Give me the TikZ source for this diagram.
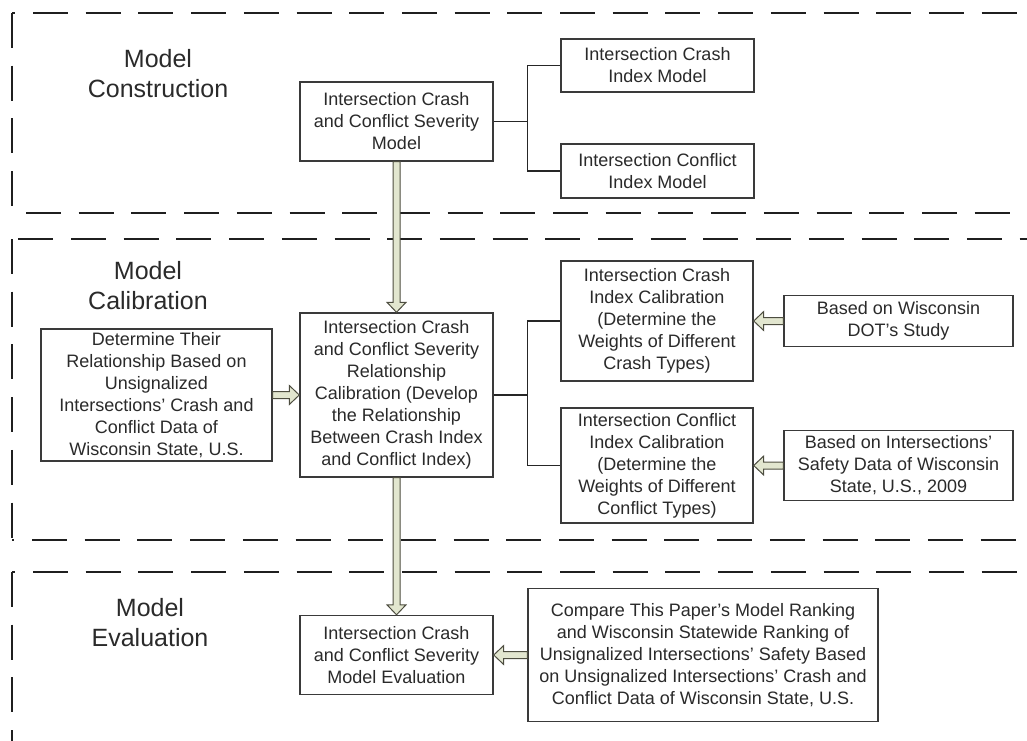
\documentclass[tikz,border=0pt]{standalone}
\usepackage{fontspec}
\setmainfont{Liberation Sans}
\usetikzlibrary{calc}
\definecolor{arrowfill}{HTML}{E2E6CF}
\definecolor{arrowline}{HTML}{4D4D40}
\definecolor{boxline}{HTML}{3A3A3A}
\definecolor{txt}{HTML}{2A2A2A}
\begin{document}
\begin{tikzpicture}[x=1pt,y=-1pt,
  box/.style={draw=boxline, line width=1.4pt, fill=white, align=center, inner sep=0pt,
    text=txt, font=\fontsize{18}{22}\selectfont},
  title/.style={align=center, font=\fontsize{25}{30}\selectfont, text=txt},
  sect/.style={draw=black!88, line width=2.4pt, dash pattern=on 35pt off 17.7pt},
  tree/.style={draw=black!85, line width=1.3pt},
  blockarrow/.style={draw=arrowline, fill=arrowfill, line width=1pt, line join=miter,
    to path={($(\tikztostart)!3.5pt!90:(\tikztotarget)$)
      -- ($(\tikztotarget)!10pt!(\tikztostart)!3.5pt!-90:(\tikztostart)$)
      -- ($(\tikztotarget)!10pt!(\tikztostart)!9.5pt!-90:(\tikztostart)$)
      -- (\tikztotarget)
      -- ($(\tikztotarget)!10pt!(\tikztostart)!9.5pt!90:(\tikztostart)$)
      -- ($(\tikztotarget)!10pt!(\tikztostart)!3.5pt!90:(\tikztostart)$)
      -- ($(\tikztostart)!3.5pt!-90:(\tikztotarget)$) -- cycle}}
]
\useasboundingbox (0,0) rectangle (1027,740);
\clip (0,0) rectangle (1027,740);

% dashed section frames
\draw[sect, dash phase=0] (12,13) -- (12,213);
\draw[sect, dash phase=31.7] (12,13) -- (1040,13);
\draw[sect, dash phase=38.7] (12,213) -- (1040,213);
\draw[sect, dash phase=0] (12,239) -- (12,540);
\draw[sect, dash phase=46.4] (12,239) -- (1040,239);
\draw[sect, dash phase=32.7] (12,540) -- (1040,540);
\draw[sect, dash phase=0] (12,572) -- (12,760);
\draw[sect, dash phase=31.7] (12,572) -- (1040,572);

% section titles
\node[title] (t1) at (158,74) {Model\\Construction};
\node[title] (t2) at (148,286) {Model\\Calibration};
\node[title] (t3) at (150,623) {Model\\Evaluation};

% model construction
\node[box, minimum width=193, minimum height=79] (b1) at (396.5,121.5)
  {Intersection Crash\\and Conflict Severity\\Model};
\node[box, minimum width=193, minimum height=53] (b2) at (657.5,65.5)
  {Intersection Crash\\Index Model};
\node[box, minimum width=193, minimum height=54] (b3) at (657.5,171)
  {Intersection Conflict\\Index Model};

% model calibration
\node[box, minimum width=231, minimum height=132] (c0) at (156.5,395)
  {Determine Their\\Relationship Based on\\Unsignalized\\Intersections' Crash and\\Conflict Data of\\Wisconsin State, U.S.};
\node[box, minimum width=193, minimum height=164] (c1) at (396.5,395)
  {Intersection Crash\\and Conflict Severity\\Relationship\\Calibration (Develop\\the Relationship\\Between Crash Index\\and Conflict Index)};
\node[box, minimum width=192, minimum height=120] (c2) at (657,321)
  {Intersection Crash\\Index Calibration\\(Determine the\\Weights of Different\\Crash Types)};
\node[box, minimum width=192, minimum height=115] (c3) at (657,465.5)
  {Intersection Conflict\\Index Calibration\\(Determine the\\Weights of Different\\Conflict Types)};
\node[box, minimum width=229, minimum height=51] (c4) at (898.5,321)
  {Based on Wisconsin\\DOT's Study};
\node[box, minimum width=229, minimum height=70] (c5) at (898.5,465.5)
  {Based on Intersections'\\Safety Data of Wisconsin\\State, U.S., 2009};

% model evaluation
\node[box, minimum width=193, minimum height=79] (e1) at (396.5,655)
  {Intersection Crash\\and Conflict Severity\\Model Evaluation};
\node[box, minimum width=350, minimum height=133] (e2) at (703,655)
  {Compare This Paper's Model Ranking\\and Wisconsin Statewide Ranking of\\Unsignalized Intersections' Safety Based\\on Unsignalized Intersections' Crash and\\Conflict Data of Wisconsin State, U.S.};

% tree connectors
\coordinate (j1) at ($(b1.east)+(34,0)$);
\coordinate (j2) at ($(c1.east)+(34,0)$);
\draw[tree] (b1.east) -- (j1);
\draw[tree] (b2.west) -| (j1) |- (b3.west);
\draw[tree] (c1.east) -- (j2);
\draw[tree] (c2.west) -| (j2) |- (c3.west);

% block arrows
\draw[blockarrow] (b1.south) to (c1.north);
\draw[blockarrow] (c1.south) to (e1.north);
\draw[blockarrow] (c0.east) to (c1.west);
\draw[blockarrow] (c4.west) to (c2.east);
\draw[blockarrow] (c5.west) to (c3.east);
\draw[blockarrow] (e2.west) to (e1.east);
\end{tikzpicture}
\end{document}
